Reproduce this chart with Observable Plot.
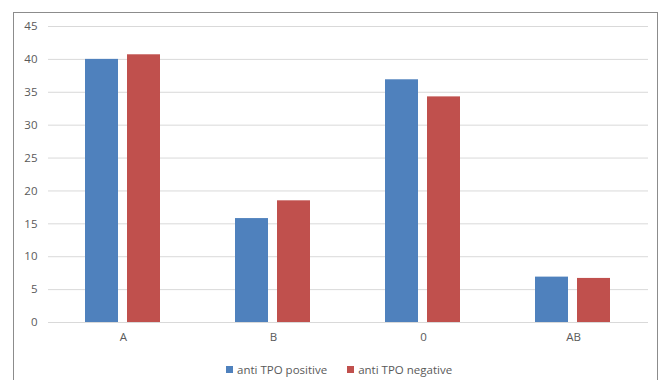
<!DOCTYPE html>
<html>
<head>
<meta charset="utf-8">
<script src="https://cdn.jsdelivr.net/npm/d3@7"></script>
<script src="https://cdn.jsdelivr.net/npm/@observablehq/plot@0.6"></script>
<style>
  html, body { margin: 0; padding: 0; background: #fff; overflow: hidden; }
  body { width: 661px; height: 380px; position: relative; font-family: "Open Sans", sans-serif; }
  #frame { position: absolute; left: 13px; top: 12px; width: 645px; height: 400px; border: 1px solid #8c8c8c; box-sizing: border-box; }
  #chart { position: absolute; left: 0; top: 0; }
  #legend { position: absolute; left: 226px; top: 362px; font-size: 11.5px; color: #595959; display: flex; gap: 20px; white-space: nowrap; }
  #legend span.item { display: inline-flex; align-items: center; }
  #legend i { display: inline-block; width: 7px; height: 7px; margin-right: 4px; }
</style>
</head>
<body>
<div id="frame"></div>
<div id="chart"></div>
<div id="legend"></div>
<script>
const categories = ["A", "B", "0", "AB"];
const seriesNames = ["anti TPO positive", "anti TPO negative"];
const positive = [40.0, 15.8, 36.9, 6.9];
const negative = [40.7, 18.5, 34.3, 6.7];
const colors = ["#4F81BD", "#C0504D"];
const yTicks = [0, 5, 10, 15, 20, 25, 30, 35, 40, 45];

const rows = categories.flatMap((c, i) => [
  {category: c, series: seriesNames[0], value: positive[i]},
  {category: c, series: seriesNames[1], value: negative[i]}
]);

const chart = Plot.plot({
  width: 661,
  height: 345,
  marginLeft: 48,
  marginRight: 13,
  marginTop: 26,
  marginBottom: 23,
  style: {fontFamily: "Open Sans, sans-serif", fontSize: "11.5px", color: "#595959", background: "transparent"},
  fx: {domain: categories, padding: 0, label: null, axis: "bottom", tickSize: 0, tickPadding: 10},
  x: {domain: seriesNames, axis: null, paddingInner: 0.209, paddingOuter: 0.849},
  y: {domain: [0, 45], ticks: yTicks, label: null, tickSize: 0, tickPadding: 11},
  color: {domain: seriesNames, range: colors},
  marks: [
    Plot.ruleY(yTicks, {stroke: "#d9d9d9", strokeWidth: 1}),
    Plot.barY(rows, {fx: "category", x: "series", y: "value", fill: "series"})
  ]
});
document.getElementById("chart").appendChild(chart);

const legend = document.getElementById("legend");
seriesNames.forEach((s, i) => {
  const item = document.createElement("span");
  item.className = "item";
  const sw = document.createElement("i");
  sw.style.background = colors[i];
  item.appendChild(sw);
  item.appendChild(document.createTextNode(s));
  legend.appendChild(item);
});
</script>
</body>
</html>
